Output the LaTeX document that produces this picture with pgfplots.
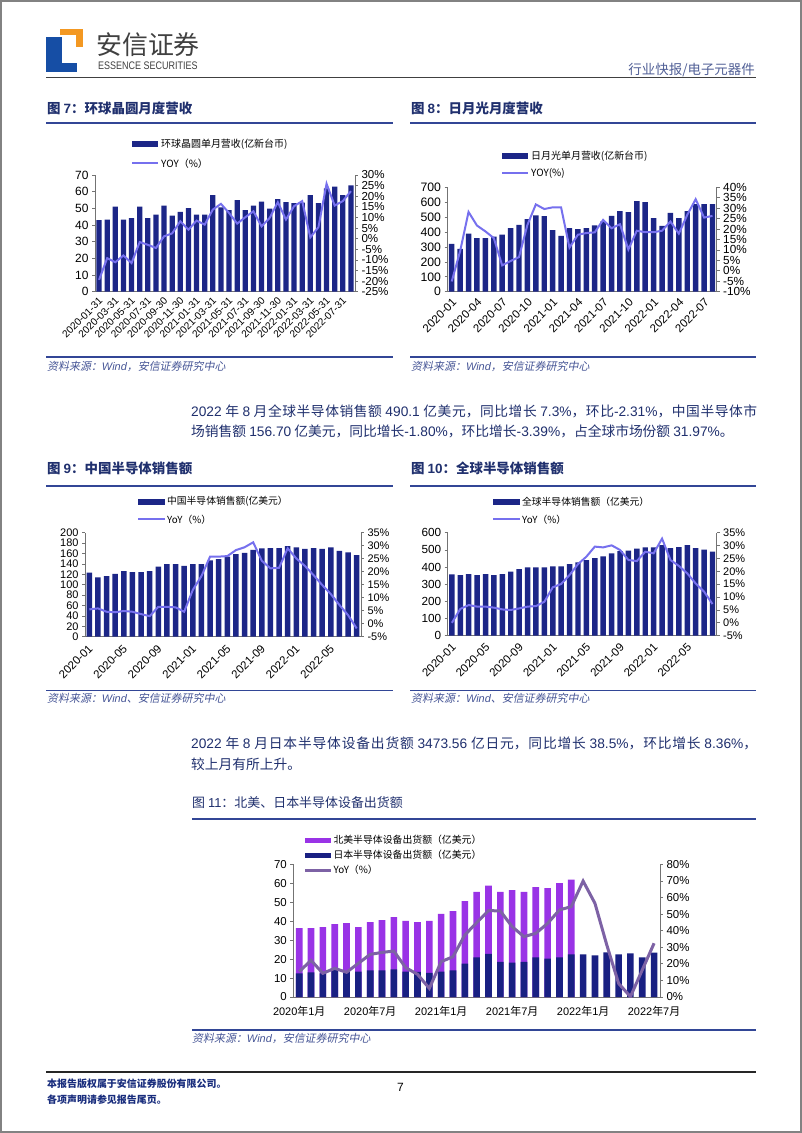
\documentclass[border=0pt]{standalone}
\usepackage{fontspec}
\usepackage{graphicx}
\usepackage{pgfplots}
\pgfplotsset{compat=1.18}
\setmainfont{Noto Sans CJK SC}
\newfontfamily\arial{Liberation Sans}
\newfontfamily\srcfont{Noto Sans CJK SC}[FakeSlant=0.2]
\newcommand{\fs}[1]{\fontsize{#1}{#1}\selectfont}
\definecolor{navy}{RGB}{28,38,135}
\definecolor{yoyline}{RGB}{118,112,238}
\definecolor{violetbar}{RGB}{153,51,230}
\definecolor{navyb}{RGB}{25,32,130}
\definecolor{yoyb}{RGB}{125,98,165}
\definecolor{txtblue}{RGB}{32,48,110}
\definecolor{ruleblue}{RGB}{50,70,150}
\definecolor{srcblue}{RGB}{70,85,150}
\definecolor{hdrgray}{RGB}{64,64,64}
\definecolor{hdrright}{RGB}{80,95,150}
\definecolor{logoorange}{RGB}{243,152,34}
\definecolor{logoblue}{RGB}{22,78,165}
\definecolor{footblue}{RGB}{25,45,125}
\definecolor{pageborder}{RGB}{130,130,130}
\pgfplotsset{
  base/.style={scale only axis, anchor=south west, enlargelimits=false,
    axis line style={draw=black!55, line width=0.7pt},
    tick style={draw=black!55, line width=0.7pt},
    tick align=outside, major tick length=3pt,
    xtick style={draw=none},
    ticklabel style={text=black},
    yticklabel style={inner ysep=0.3pt}},
  barax/.style={base, axis x line*=bottom, axis y line*=left, ybar, ymin=0},
  lineax/.style={base, axis y line*=right, axis x line=none, xtick=\empty},
}
\begin{document}
\begin{tikzpicture}
\useasboundingbox (0,0) rectangle (802bp,-1133bp);
\fill[white] (0,0) rectangle (802bp,-1133bp);
\draw[line width=2bp, pageborder] (1bp,-1bp) rectangle (801bp,-1132bp);
% ---------- header ----------
\fill[logoorange] (60.4bp,-29.3bp) rectangle (82.9bp,-35bp);
\fill[logoorange] (75.7bp,-29.3bp) rectangle (82.9bp,-46.7bp);
\fill[logoblue] (46bp,-36.7bp) rectangle (62.4bp,-71.7bp);
\fill[logoblue] (46bp,-63.3bp) rectangle (76.7bp,-71.7bp);
\node[anchor=west, inner sep=0, text=hdrgray] at (96bp,-45bp) {\fs{26}安信证券};
\node[anchor=west, inner sep=0, text=hdrgray] at (98bp,-65.5bp) {\scalebox{0.82}[1]{\arial\fs{11}ESSENCE SECURITIES}};
\node[anchor=east, inner sep=0, text=hdrright] at (755bp,-70bp) {\fs{13.5}行业快报/电子元器件};
\draw[line width=1.5bp, hdrgray] (46bp,-77.5bp) -- (756bp,-77.5bp);
% ---------- titles row 1 ----------
\node[anchor=west, inner sep=0, text=txtblue] at (47bp,-108bp) {\bfseries\fs{13.5}图 {\arial 7}：环球晶圆月度营收};
\node[anchor=west, inner sep=0, text=txtblue] at (411bp,-108bp) {\bfseries\fs{13.5}图 {\arial 8}：日月光月度营收};
\draw[line width=1.3bp, ruleblue] (46bp,-123bp) -- (393bp,-123bp);
\draw[line width=1.3bp, ruleblue] (410bp,-123bp) -- (756bp,-123bp);
% ---------- chart 7 ----------
\begin{axis}[barax, at={(95bp,-291.7bp)}, width=260bp, height=116.7bp,
  xmin=0.5, xmax=32.5, ymax=70, bar width=0.65,
  ytick={0,10,...,70}, yticklabels={0,10,20,30,40,50,60,70},
  yticklabel style={font=\arial\fs{12}},
  xtick={1,3,...,31},
  xticklabels={2020-01-31,2020-03-31,2020-05-31,2020-07-31,2020-09-30,2020-11-30,2021-01-31,2021-03-31,2021-05-31,2021-07-31,2021-09-30,2021-11-30,2022-01-31,2022-03-31,2022-05-31,2022-07-31},
  xticklabel style={font=\arial\fs{10.2}, rotate=45, anchor=east, inner sep=0.5pt, xshift=-1.5bp, yshift=-4.5bp}]
\addplot[fill=navy, draw=none] coordinates {(1,42.9)(2,43.3)(3,51.1)(4,43.3)(5,44.1)(6,51.1)(7,44.1)(8,46.3)(9,51.7)(10,45.7)(11,47.9)(12,50.1)(13,46.3)(14,46.3)(15,57.9)(16,50.6)(17,48.9)(18,54.9)(19,48.9)(20,51.7)(21,54.1)(22,49.9)(23,55.5)(24,53.7)(25,53.1)(26,53.5)(27,57.9)(28,53.1)(29,62.0)(30,63.0)(31,57.9)(32,63.8)};
\end{axis}
\begin{axis}[lineax, at={(95bp,-291.7bp)}, width=260bp, height=116.7bp,
  xmin=0.5, xmax=32.5, ymin=-25, ymax=30,
  ytick={-25,-20,...,30}, yticklabels={-25\%,-20\%,-15\%,-10\%,-5\%,0\%,5\%,10\%,15\%,20\%,25\%,30\%},
  yticklabel style={font=\arial\fs{11.6}}]
\addplot[yoyline, line width=2bp, mark=none] coordinates {(1,-19.4)(2,-9.2)(3,-11.1)(4,-7.9)(5,-11.5)(6,-1.6)(7,-2.9)(8,-4.4)(9,1.1)(10,2.5)(11,8.2)(12,4.2)(13,8.5)(14,6.6)(15,13.7)(16,16.4)(17,12.1)(18,7.1)(19,10.1)(20,12.9)(21,5.8)(22,9.8)(23,17.2)(24,9.0)(25,15.3)(26,17.7)(27,0.6)(28,5.4)(29,25.9)(30,15.6)(31,17.7)(32,22.4)};
\end{axis}
\fill[navy] (132bp,-141bp) rectangle (158bp,-147bp);
\node[anchor=west, inner sep=0] at (161bp,-144bp) {\fs{10}环球晶圆单月营收(亿新台币)};
\draw[yoyline, line width=2bp] (132bp,-163.3bp) -- (158bp,-163.3bp);
\node[anchor=west, inner sep=0] at (161bp,-163.3bp) {\fs{10}YOY（\%）};
% ---------- chart 8 ----------
\begin{axis}[barax, at={(447.5bp,-291.7bp)}, width=269.2bp, height=104.4bp,
  xmin=0.5, xmax=32.5, ymax=700, bar width=0.65,
  ytick={0,100,...,700}, yticklabels={0,100,200,300,400,500,600,700},
  yticklabel style={font=\arial\fs{12.3}},
  xtick={1,4,...,31},
  xticklabels={2020-01,2020-04,2020-07,2020-10,2021-01,2021-04,2021-07,2021-10,2022-01,2022-04,2022-07},
  xticklabel style={font=\arial\fs{11.5}, rotate=45, anchor=east, inner sep=1pt, xshift=-1bp, yshift=-6bp}]
\addplot[fill=navy, draw=none] coordinates {(1,320)(2,287)(3,389)(4,360)(5,360)(6,369)(7,382)(8,426)(9,448)(10,486)(11,512)(12,506)(13,413)(14,375)(15,426)(16,419)(17,426)(18,444)(19,472)(20,508)(21,541)(22,534)(23,607)(24,600)(25,494)(26,442)(27,528)(28,494)(29,541)(30,587)(31,587)(32,587)};
\end{axis}
\begin{axis}[lineax, at={(447.5bp,-291.7bp)}, width=269.2bp, height=104.4bp,
  xmin=0.5, xmax=32.5, ymin=-10, ymax=40,
  ytick={-10,-5,...,40}, yticklabels={-10\%,-5\%,0\%,5\%,10\%,15\%,20\%,25\%,30\%,35\%,40\%},
  yticklabel style={font=\arial\fs{11.8}}]
\addplot[yoyline, line width=2bp, mark=none] coordinates {(1,-5.1)(2,9.4)(3,28.2)(4,21.7)(5,18.9)(6,15.7)(7,2.6)(8,4.7)(9,6.6)(10,22.0)(11,31.8)(12,29.6)(13,30.4)(14,30.4)(15,11.1)(16,17.3)(17,18.1)(18,18.4)(19,24.4)(20,20.4)(21,22.3)(22,10.2)(23,19.2)(24,18.5)(25,18.5)(26,19.2)(27,23.6)(28,17.8)(29,26.8)(30,34.3)(31,25.5)(32,26.3)};
\end{axis}
\fill[navy] (502bp,-153bp) rectangle (528bp,-159bp);
\node[anchor=west, inner sep=0] at (531bp,-156bp) {\fs{10}日月光单月营收(亿新台币)};
\draw[yoyline, line width=2bp] (502bp,-173.3bp) -- (528bp,-173.3bp);
\node[anchor=west, inner sep=0] at (531bp,-173.3bp) {\fs{10}YOY(\%)};
% ---------- sources row 1 ----------
\draw[line width=1.3bp, ruleblue] (46bp,-357bp) -- (393bp,-357bp);
\draw[line width=1.3bp, ruleblue] (410bp,-357bp) -- (756bp,-357bp);
\node[anchor=west, inner sep=0, text=srcblue] at (47bp,-366bp) {\srcfont\fs{11}资料来源：{\arial\itshape Wind}，安信证券研究中心};
\node[anchor=west, inner sep=0, text=srcblue] at (411bp,-366bp) {\srcfont\fs{11}资料来源：{\arial\itshape Wind}，安信证券研究中心};
% ---------- paragraph 1 ----------
\node[anchor=base west, inner sep=0, text=txtblue] at (191bp,-416bp) {\parbox[t]{566bp}{\fs{13.8}\baselineskip=20bp\parindent=0pt\XeTeXlinebreaklocale "zh"\XeTeXlinebreakskip=0pt plus 2pt minus 0.3pt
{\arial 2022} 年 {\arial 8} 月全球半导体销售额 {\arial 490.1} 亿美元，同比增长 {\arial 7.3\%}，环比{\arial -2.31\%}，中国半导体市\linebreak 场销售额 {\arial 156.70} 亿美元，同比增长{\arial -1.80\%}，环比增长{\arial -3.39\%}，占全球市场份额 {\arial 31.97\%}。}};
% ---------- titles row 2 ----------
\node[anchor=west, inner sep=0, text=txtblue] at (47bp,-468bp) {\bfseries\fs{13.5}图 {\arial 9}：中国半导体销售额};
\node[anchor=west, inner sep=0, text=txtblue] at (411bp,-468bp) {\bfseries\fs{13.5}图 {\arial 10}：全球半导体销售额};
\draw[line width=1.3bp, ruleblue] (46bp,-486bp) -- (393bp,-486bp);
\draw[line width=1.3bp, ruleblue] (410bp,-486bp) -- (756bp,-486bp);
% ---------- chart 9 ----------
\begin{axis}[barax, at={(85bp,-636.7bp)}, width=276bp, height=104bp,
  xmin=0.5, xmax=32.5, ymax=200, bar width=0.65,
  ytick={0,20,...,200}, yticklabels={0,20,40,60,80,100,120,140,160,180,200},
  yticklabel style={font=\arial\fs{11}},
  xtick={1,5,...,29},
  xticklabels={2020-01,2020-05,2020-09,2021-01,2021-05,2021-09,2022-01,2022-05},
  xticklabel style={font=\arial\fs{11.5}, rotate=45, anchor=east, inner sep=1pt, xshift=-3bp, yshift=-6bp}]
\addplot[fill=navy, draw=none] coordinates {(1,123)(2,114)(3,116.7)(4,121)(5,126)(6,124)(7,124)(8,126)(9,135)(10,139.7)(11,139.7)(12,136)(13,139.7)(14,139.7)(15,147)(16,149)(17,154)(18,159)(19,161)(20,167)(21,170)(22,170.5)(23,170.5)(24,174)(25,172)(26,169)(27,170.5)(28,169)(29,172)(30,165)(31,162)(32,156.7)};
\end{axis}
\begin{axis}[lineax, at={(85bp,-636.7bp)}, width=276bp, height=104bp,
  xmin=0.5, xmax=32.5, ymin=-5, ymax=35,
  ytick={-5,0,...,35}, yticklabels={-5\%,0\%,5\%,10\%,15\%,20\%,25\%,30\%,35\%},
  yticklabel style={font=\arial\fs{11}}]
\addplot[yoyline, line width=2bp, mark=none] coordinates {(1,5.5)(2,5.9)(3,4.6)(4,4.4)(5,4.9)(6,4.6)(7,3.7)(8,2.9)(9,6.5)(10,6.5)(11,6.3)(12,4.6)(13,13.0)(14,18.3)(15,25.8)(16,25.8)(17,26.0)(18,28.3)(19,29.4)(20,31.3)(21,24.2)(22,21.3)(23,21.5)(24,29.0)(25,25.1)(26,22.2)(27,18.7)(28,14.9)(29,11.4)(30,7.2)(31,3.3)(32,-1.8)};
\end{axis}
\fill[navy] (138bp,-498.7bp) rectangle (165bp,-504.7bp);
\node[anchor=west, inner sep=0] at (167bp,-501.7bp) {\fs{9.8}中国半导体销售额(亿美元）};
\draw[yoyline, line width=2bp] (138bp,-519.3bp) -- (165bp,-519.3bp);
\node[anchor=west, inner sep=0] at (167bp,-519.3bp) {\fs{9.8}YoY（\%）};
% ---------- chart 10 ----------
\begin{axis}[barax, at={(447.7bp,-635.7bp)}, width=269bp, height=103bp,
  xmin=0.5, xmax=32.5, ymax=600, bar width=0.65,
  ytick={0,100,...,600}, yticklabels={0,100,200,300,400,500,600},
  yticklabel style={font=\arial\fs{11.8}},
  xtick={1,5,...,29},
  xticklabels={2020-01,2020-05,2020-09,2021-01,2021-05,2021-09,2022-01,2022-05},
  xticklabel style={font=\arial\fs{11.5}, rotate=45, anchor=east, inner sep=1pt, xshift=-2bp, yshift=-6bp}]
\addplot[fill=navy, draw=none] coordinates {(1,357)(2,353)(3,359)(4,353)(5,359)(6,353)(7,359)(8,373)(9,388)(10,398)(11,398)(12,398)(13,404)(14,404)(15,417)(16,427)(17,441)(18,452)(19,462)(20,480)(21,493)(22,495)(23,507)(24,514)(25,514)(26,527)(27,510)(28,516)(29,528)(30,510)(31,502)(32,490.1)};
\end{axis}
\begin{axis}[lineax, at={(447.7bp,-635.7bp)}, width=269bp, height=103bp,
  xmin=0.5, xmax=32.5, ymin=-5, ymax=35,
  ytick={-5,0,...,35}, yticklabels={-5\%,0\%,5\%,10\%,15\%,20\%,25\%,30\%,35\%},
  yticklabel style={font=\arial\fs{11}}]
\addplot[yoyline, line width=2bp, mark=none] coordinates {(1,0.0)(2,5.4)(3,6.9)(4,6.3)(5,6.3)(6,5.9)(7,5.2)(8,5.0)(9,5.6)(10,6.3)(11,6.5)(12,8.2)(13,13.8)(14,15.1)(15,18.6)(16,22.8)(17,25.7)(18,29.6)(19,29.3)(20,30.1)(21,28.3)(22,24.4)(23,24.0)(24,27.6)(25,27.0)(26,32.7)(27,24.4)(28,22.1)(29,19.2)(30,15.3)(31,12.1)(32,7.3)};
\end{axis}
\fill[navy] (493bp,-498.7bp) rectangle (520bp,-504.7bp);
\node[anchor=west, inner sep=0] at (522bp,-501.7bp) {\fs{9.8}全球半导体销售额（亿美元）};
\draw[yoyline, line width=2bp] (493bp,-519.3bp) -- (520bp,-519.3bp);
\node[anchor=west, inner sep=0] at (522bp,-519.3bp) {\fs{9.8}YoY（\%）};
% ---------- sources row 2 ----------
\draw[line width=1.3bp, ruleblue] (46bp,-690.5bp) -- (393bp,-690.5bp);
\draw[line width=1.3bp, ruleblue] (410bp,-690.5bp) -- (756bp,-690.5bp);
\node[anchor=west, inner sep=0, text=srcblue] at (47bp,-698bp) {\srcfont\fs{11}资料来源：{\arial\itshape Wind}、安信证券研究中心};
\node[anchor=west, inner sep=0, text=srcblue] at (411bp,-698bp) {\srcfont\fs{11}资料来源：{\arial\itshape Wind}、安信证券研究中心};
% ---------- paragraph 2 ----------
\node[anchor=base west, inner sep=0, text=txtblue] at (191bp,-748.5bp) {\parbox[t]{566bp}{\fs{13.8}\baselineskip=20.5bp\parindent=0pt\XeTeXlinebreaklocale "zh"\XeTeXlinebreakskip=0pt plus 2pt minus 0.3pt
{\arial 2022} 年 {\arial 8} 月日本半导体设备出货额 {\arial 3473.56} 亿日元，同比增长 {\arial 38.5\%}，环比增长 {\arial 8.36\%}，\linebreak 较上月有所上升。}};
% ---------- title 11 ----------
\node[anchor=west, inner sep=0, text=txtblue] at (192bp,-803bp) {\fs{13}图 {\arial 11}：北美、日本半导体设备出货额};
\draw[line width=1.3bp, ruleblue] (192bp,-819bp) -- (756bp,-819bp);
% ---------- chart 11 ----------
\begin{axis}[barax, at={(293.3bp,-997bp)}, width=366.7bp, height=132.7bp,
  xmin=0.5, xmax=31.5, ymax=70, bar width=0.56,
  ytick={0,10,...,70}, yticklabels={0,10,20,30,40,50,60,70},
  yticklabel style={font=\arial\fs{11.5}},
  xtick={1,7,...,31},
  xticklabels={{{\arial 2020}年{\arial 1}月},{{\arial 2020}年{\arial 7}月},{{\arial 2021}年{\arial 1}月},{{\arial 2021}年{\arial 7}月},{{\arial 2022}年{\arial 1}月},{{\arial 2022}年{\arial 7}月}},
  xticklabel style={font=\fs{11}, yshift=-3bp}]
\addplot[fill=violetbar, draw=none, bar shift=0pt] coordinates {(1,36.4)(2,36.4)(3,36.9)(4,38.5)(5,39.0)(6,36.9)(7,39.5)(8,40.6)(9,42.2)(10,40.1)(11,39.5)(12,40.1)(13,43.8)(14,45.3)(15,50.6)(16,55.4)(17,58.7)(18,55.4)(19,56.4)(20,55.4)(21,58.0)(22,57.5)(23,60.1)(24,61.9)};
\addplot[fill=navyb, draw=none, bar shift=0pt] coordinates {(1,12.5)(2,13.0)(3,12.5)(4,14.2)(5,13.4)(6,13.4)(7,14.1)(8,14.1)(9,14.6)(10,13.4)(11,13.2)(12,12.7)(13,13.4)(14,14.1)(15,17.6)(16,20.9)(17,22.7)(18,18.5)(19,18.1)(20,18.6)(21,20.9)(22,20.2)(23,20.9)(24,22.5)(25,22.5)(26,22.0)(27,23.6)(28,22.5)(29,23.0)(30,20.9)(31,23.4)};
\end{axis}
\begin{axis}[lineax, at={(293.3bp,-997bp)}, width=366.7bp, height=132.7bp,
  xmin=0.5, xmax=31.5, ymin=0, ymax=80,
  ytick={0,10,...,80}, yticklabels={0\%,10\%,20\%,30\%,40\%,50\%,60\%,70\%,80\%},
  yticklabel style={font=\arial\fs{11.5}}]
\addplot[yoyb, line width=3bp, mark=none] coordinates {(1,15.3)(2,22.1)(3,14.3)(4,17.3)(5,14.9)(6,20.3)(7,25.7)(8,26.9)(9,27.7)(10,17.7)(11,13.7)(12,5.2)(13,21.3)(14,24.3)(15,37.4)(16,44.8)(17,52.1)(18,51.9)(19,42.4)(20,36.4)(21,38.4)(22,44.4)(23,52.5)(24,54.5)(25,69.9)(26,56.5)(27,31.4)(28,8.2)(29,0.2)(30,16.3)(31,32.4)};
\end{axis}
\fill[violetbar] (305bp,-837.5bp) rectangle (330.7bp,-842.5bp);
\node[anchor=west, inner sep=0] at (333.3bp,-840bp) {\fs{9.9}北美半导体设备出货额（亿美元）};
\fill[navyb] (305bp,-852.5bp) rectangle (330.7bp,-857.5bp);
\node[anchor=west, inner sep=0] at (333.3bp,-855bp) {\fs{9.9}日本半导体设备出货额（亿美元）};
\draw[yoyb, line width=3bp] (305bp,-870bp) -- (330.7bp,-870bp);
\node[anchor=west, inner sep=0] at (333.3bp,-870bp) {\fs{9.9}YoY（\%）};
% ---------- source 11 ----------
\draw[line width=1.3bp, ruleblue] (192bp,-1030bp) -- (756bp,-1030bp);
\node[anchor=west, inner sep=0, text=srcblue] at (192bp,-1038.5bp) {\srcfont\fs{11}资料来源：{\arial\itshape Wind}，安信证券研究中心};
% ---------- footer ----------
\draw[line width=1.3bp, black!85] (46bp,-1072bp) -- (756bp,-1072bp);
\node[anchor=west, inner sep=0, text=footblue] at (47bp,-1084bp) {\bfseries\fs{10}本报告版权属于安信证券股份有限公司。};
\node[anchor=west, inner sep=0, text=footblue] at (47bp,-1100bp) {\bfseries\fs{10}各项声明请参见报告尾页。};
\node[inner sep=0] at (400.5bp,-1087bp) {\arial\fs{12}7};
\end{tikzpicture}
\end{document}
